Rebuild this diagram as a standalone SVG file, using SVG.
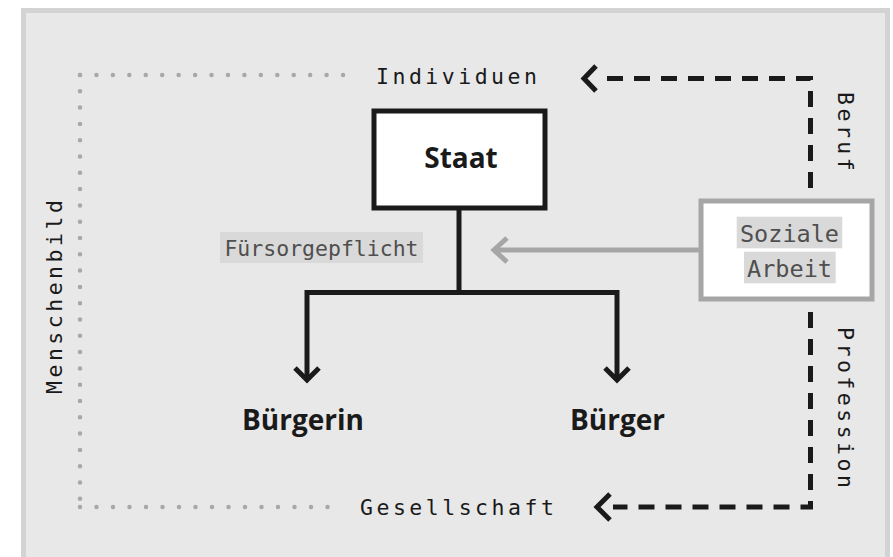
<svg xmlns="http://www.w3.org/2000/svg" width="893" height="557" viewBox="0 0 893 557">
<defs>
<style>
.mono{font-family:"DejaVu Sans Mono","Liberation Mono",monospace;}
.lbl{font-size:21.5px;letter-spacing:3.5px;fill:#1a1a1a;}
.tag{fill:#4f4f4f;}
.tagbg{fill:#d9d9d9;}
.bold{font-family:"Open Sans","Noto Sans",sans-serif;font-weight:700;font-size:28px;fill:#1a1a1a;text-anchor:middle;}
.dots{fill:none;stroke:#a8a8a8;stroke-width:4.5;stroke-linecap:round;}
.blk{fill:none;stroke:#1a1a1a;stroke-width:5;stroke-linejoin:miter;}
.dash{fill:none;stroke:#1a1a1a;stroke-width:5;stroke-dasharray:16 11;}
.gry{fill:none;stroke:#a6a6a6;stroke-width:5;stroke-linejoin:miter;}
</style>
</defs>
<rect x="23.5" y="10.5" width="864" height="560" fill="#e8e8e8" stroke="#d3d3d3" stroke-width="5"/>

<g id="connectors">
  <path class="dots" d="M80 75 H344" stroke-dasharray="0 16.44"/>
  <path class="dots" d="M80 75 V499" stroke-dasharray="0 16.3"/>
  <path class="dots" d="M80 507 H329" stroke-dasharray="0 16.5"/>
  <path class="blk" d="M459 210 V292.5 M307 380 V292.5 H617 V380"/>
  <polyline class="blk" points="295,368 307,380 319,368"/>
  <polyline class="blk" points="605,368 617,380 629,368"/>
  <path class="gry" d="M699 250 H494"/>
  <polyline class="gry" points="507,238 494,250 507,262"/>
  <path class="dash" d="M810.5 188 V78.5 H600"/>
  <polyline class="blk" points="596,66 584,78.5 596,91"/>
  <path class="dash" d="M810.5 312 V507 H613"/>
  <polyline class="blk" points="610,494 597,507 610,520"/>
</g>

<g id="individuen"><text class="mono lbl" x="376" y="84">Individuen</text></g>
<g id="gesellschaft"><text class="mono lbl" x="360" y="515">Gesellschaft</text></g>
<g id="menschenbild"><text class="mono lbl" transform="translate(61.5,394) rotate(-90)">Menschenbild</text></g>
<g id="beruf"><text class="mono lbl" transform="translate(838,92) rotate(90)">Beruf</text></g>
<g id="profession"><text class="mono lbl" transform="translate(838,327) rotate(90)">Profession</text></g>

<g id="staat">
  <rect x="374" y="111" width="171" height="97" fill="#ffffff" stroke="#1a1a1a" stroke-width="5"/>
  <text class="bold" x="461" y="168">Staat</text>
</g>
<g id="fuersorgepflicht">
  <rect class="tagbg" x="220" y="232" width="203" height="31"/>
  <text class="mono tag" x="321.5" y="255.7" font-size="21.5" text-anchor="middle">Fürsorgepflicht</text>
</g>
<g id="soziale-arbeit">
  <rect x="701" y="201" width="171" height="98" fill="#ffffff" stroke="#a6a6a6" stroke-width="5"/>
  <rect class="tagbg" x="736.7" y="216.7" width="105.6" height="31.6"/>
  <rect class="tagbg" x="744" y="251.7" width="91.7" height="31.6"/>
  <text class="mono tag" x="789.5" y="241.7" font-size="23.5" text-anchor="middle">Soziale</text>
  <text class="mono tag" x="789.5" y="276.7" font-size="23.5" text-anchor="middle">Arbeit</text>
</g>
<g id="buergerin"><text class="bold" x="303" y="430">Bürgerin</text></g>
<g id="buerger"><text class="bold" x="617.5" y="430">Bürger</text></g>
</svg>
